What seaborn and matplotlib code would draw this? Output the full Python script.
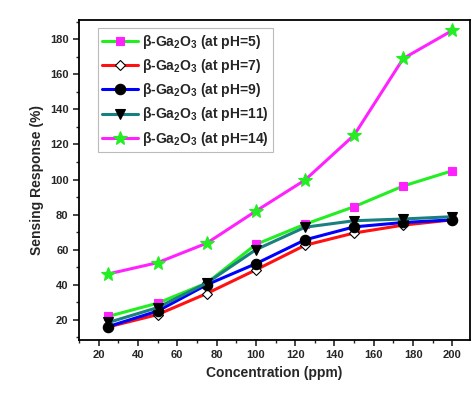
import matplotlib
matplotlib.use("Agg")
import matplotlib.pyplot as plt
import seaborn as sns
import pandas as pd
from matplotlib.ticker import MultipleLocator

sns.set_style("ticks")
plt.rcParams['font.family'] = ['Liberation Sans', 'DejaVu Sans']
plt.rcParams['font.weight'] = 'bold'
plt.rcParams['mathtext.fontset'] = 'custom'
plt.rcParams['mathtext.rm'] = 'Liberation Sans:bold'
plt.rcParams['mathtext.bf'] = 'Liberation Sans:bold'
plt.rcParams['mathtext.default'] = 'bf'

conc = [25, 50, 75, 100, 125, 150, 175, 200]
ph5 = [22, 29.5, 41, 63, 74.5, 84.5, 96.3, 105]
ph7 = [16, 23, 35, 48.5, 62.5, 69.5, 74, 77]
ph9 = [16.2, 25, 40, 52, 65.6, 73, 75.5, 77]
ph11 = [18.5, 27, 41, 60, 72.8, 76.5, 77.5, 78.8]
ph14 = [46.2, 52.6, 63.7, 82, 99.7, 125.3, 169, 185]

labels = [r"β-Ga$_2$O$_3$ (at pH=5)", r"β-Ga$_2$O$_3$ (at pH=7)",
          r"β-Ga$_2$O$_3$ (at pH=9)", r"β-Ga$_2$O$_3$ (at pH=11)",
          r"β-Ga$_2$O$_3$ (at pH=14)"]
series = [ph5, ph7, ph9, ph11, ph14]
styles = [
    dict(color="#22ee22", marker="s", mfc="#ff22ff", mec="#ff22ff", ms=6),
    dict(color="#ff1111", marker="D", mfc="white", mec="black", ms=5),
    dict(color="#0000ff", marker="o", mfc="black", mec="black", ms=7.5),
    dict(color="#1a7f7f", marker="v", mfc="black", mec="black", ms=7),
    dict(color="#ff22ff", marker="*", mfc="#22ee22", mec="#22ee22", ms=10),
]

fig = plt.figure(figsize=(4.74, 3.98), dpi=100)
ax = fig.add_axes([0.1667, 0.1457, 0.825, 0.8043])

for vals, lab, st in zip(series, labels, styles):
    df = pd.DataFrame({"x": conc, "y": vals})
    sns.lineplot(data=df, x="x", y="y", ax=ax, color=st["color"], linewidth=2.2,
                 marker=st["marker"], markerfacecolor=st["mfc"],
                 markeredgecolor=st["mec"], markersize=st["ms"],
                 markeredgewidth=0.8, label=lab)

ax.set_xlim(10, 209)
ax.set_ylim(8.5, 191)
ax.xaxis.set_major_locator(MultipleLocator(20))
ax.xaxis.set_minor_locator(MultipleLocator(10))
ax.yaxis.set_major_locator(MultipleLocator(20))
ax.yaxis.set_minor_locator(MultipleLocator(10))
ax.tick_params(axis='both', which='major', direction='out', length=4, width=1.2,
               labelsize=8, top=False, right=False)
ax.tick_params(axis='both', which='minor', direction='out', length=2.5, width=1.0,
               top=False, right=False)
for lbl in ax.get_xticklabels() + ax.get_yticklabels():
    lbl.set_fontweight('bold')
for s in ax.spines.values():
    s.set_linewidth(1.3)
    s.set_color("black")

ax.set_xlabel("Concentration (ppm)", fontsize=10, fontweight='bold')
ax.set_ylabel("Sensing Response (%)", fontsize=10, fontweight='bold')

leg = ax.legend(loc="upper left", bbox_to_anchor=(0.03, 0.995), fontsize=10,
                frameon=True, fancybox=False, edgecolor="#aaaaaa",
                handlelength=2.6, labelspacing=0.45, borderpad=0.3,
                handletextpad=0.3)
leg.get_frame().set_linewidth(0.8)
for t in leg.get_texts():
    t.set_fontweight('bold')

fig.savefig("out.png", dpi=100, facecolor="white")
